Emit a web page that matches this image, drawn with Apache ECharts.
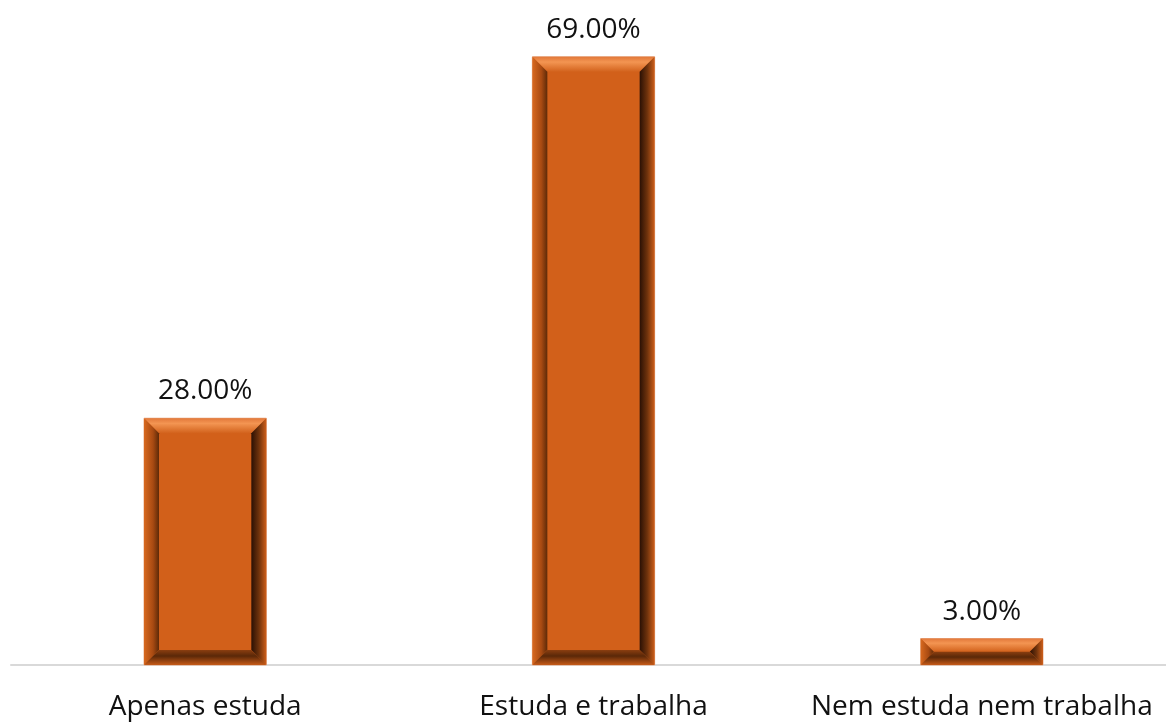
<!DOCTYPE html>
<html><head><meta charset="utf-8">
<script src="https://cdn.jsdelivr.net/npm/echarts@6/dist/echarts.min.js"></script>
<style>html,body{margin:0;padding:0;background:#fff;overflow:hidden;width:1166px;height:724px}#c{width:1180px;height:724px}</style>
</head><body><div id="c"></div>
<script>
const categories = ['Apenas estuda', 'Estuda e trabalha', 'Nem estuda nem trabalha'];
const values = [28, 69, 3];
const labels = ['28.00%', '69.00%', '3.00%'];

const chart = echarts.init(document.getElementById('c'));
const FONT = '"Open Sans", Lato, sans-serif';

function renderItem(params, api) {
  const idx = api.value(0);
  const v = api.value(1);
  const top = api.coord([idx, v]);
  const base = api.coord([idx, 0]);
  const bw = api.size([1, 0])[0] * 0.315;
  const x = top[0] - bw / 2, y = top[1], w = bw, h = base[1] - top[1];
  const b = Math.min(15, h / 2);
  const lin = (x1, y1, x2, y2, stops) => new echarts.graphic.LinearGradient(x1, y1, x2, y2, stops);
  return {
    type: 'group',
    children: [
      { type: 'rect', shape: { x: x, y: y, width: w, height: h }, style: { fill: '#D2601A', stroke: '#E8B090', lineWidth: 1 } },
      { type: 'polygon', shape: { points: [[x, y], [x + w, y], [x + w - b, y + b], [x + b, y + b]] },
        style: { fill: lin(0, 0, 0, 1, [{ offset: 0, color: '#E2783A' }, { offset: 0.35, color: '#F39552' }, { offset: 1, color: '#D2621C' }]) } },
      { type: 'polygon', shape: { points: [[x, y], [x + b, y + b], [x + b, y + h - b], [x, y + h]] },
        style: { fill: lin(0, 0, 1, 0, [{ offset: 0, color: '#D8691F' }, { offset: 0.6, color: '#A84A12' }, { offset: 1, color: '#5E2A08' }]) } },
      { type: 'polygon', shape: { points: [[x + w, y], [x + w, y + h], [x + w - b, y + h - b], [x + w - b, y + b]] },
        style: { fill: lin(0, 0, 1, 0, [{ offset: 0, color: '#2A1004' }, { offset: 0.5, color: '#6E320C' }, { offset: 1, color: '#CE5F1A' }]) } },
      { type: 'polygon', shape: { points: [[x, y + h], [x + b, y + h - b], [x + w - b, y + h - b], [x + w, y + h]] },
        style: { fill: lin(0, 0, 0, 1, [{ offset: 0, color: '#8A3E10' }, { offset: 0.4, color: '#5A2808' }, { offset: 1, color: '#C65A18' }]) } },
      { type: 'text', style: { text: labels[idx], x: top[0], y: y - 13, align: 'center', verticalAlign: 'bottom',
        font: '28px ' + FONT, fill: '#111' } }
    ]
  };
}

chart.setOption({
  animation: false,
  grid: { left: 11, right: 4, top: 48, bottom: 59, containLabel: false },
  xAxis: {
    type: 'category', data: categories,
    axisLine: { lineStyle: { color: '#d9d9d9', width: 2 } },
    axisTick: { show: false },
    axisLabel: { color: '#111', fontSize: 28, fontFamily: FONT, margin: 28, interval: 0 }
  },
  yAxis: { type: 'value', min: 0, max: 70, show: false, splitLine: { show: false } },
  series: [{
    type: 'custom',
    renderItem: renderItem,
    encode: { x: 0, y: 1 },
    data: values.map((v, i) => [i, v])
  }]
});
</script></body></html>
